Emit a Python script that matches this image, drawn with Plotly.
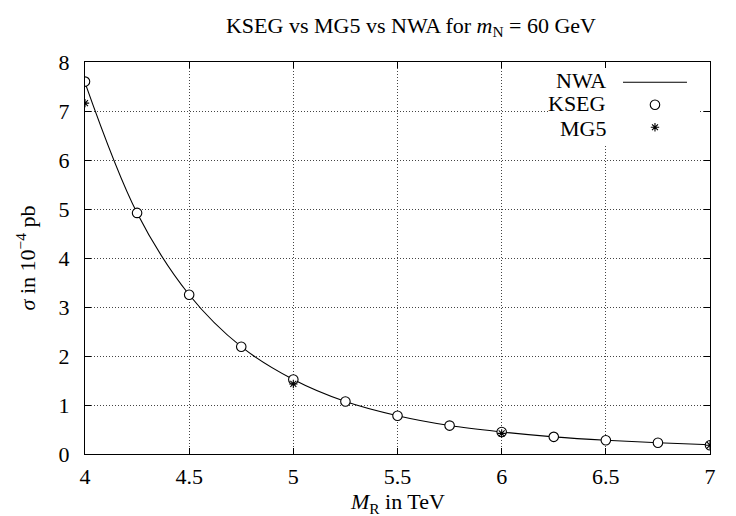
import plotly.graph_objects as go

# ---- data ----
mass_tev = [4.0, 4.25, 4.5, 4.75, 5.0, 5.25, 5.5, 5.75, 6.0, 6.25, 6.5, 6.75, 7.0]
kseg_sigma = [7.60, 4.92, 3.25, 2.19, 1.52, 1.07, 0.78, 0.58, 0.45, 0.35, 0.28, 0.23, 0.18]
nwa_sigma = [7.58, 4.92, 3.25, 2.19, 1.52, 1.07, 0.78, 0.58, 0.45, 0.35, 0.28, 0.23, 0.19]
mg5_mass = [4.0, 5.0, 6.0, 7.0]
mg5_sigma = [7.16, 1.43, 0.42, 0.18]
x_ticks = [4, 4.5, 5, 5.5, 6, 6.5, 7]
y_ticks = [0, 1, 2, 3, 4, 5, 6, 7, 8]
legend_names = ["NWA", "KSEG", "MG5"]
x_title = "<i>M</i><sub>R</sub> in TeV"
y_title = "<i>σ</i> in 10<sup>−4</sup> pb"
chart_title = "KSEG vs MG5 vs NWA for <i>m</i><sub>N</sub> = 60 GeV"

FONT = "Liberation Serif"
W, H = 736, 516
L, R, T, B = 77, 7, 54, 70
plot_w = W - L - R
plot_h = H - T - B
X_RANGE = [4, 7]
Y_RANGE = [0, 8]

fig = go.Figure()
fig.add_trace(go.Scatter(
    x=mass_tev, y=nwa_sigma, mode="lines", name=legend_names[0],
    line=dict(color="black", width=1.1, shape="spline", smoothing=1.0),
))
fig.add_trace(go.Scatter(
    x=mass_tev, y=kseg_sigma, mode="markers", name=legend_names[1],
    marker=dict(symbol="circle", size=9.5, color="white",
                line=dict(color="black", width=1.1)),
))
fig.add_trace(go.Scatter(
    x=mg5_mass, y=mg5_sigma, mode="markers", name=legend_names[2],
    marker=dict(symbol="asterisk-open", size=7, color="black",
                line=dict(color="black", width=1.1)),
))

axis_common = dict(
    showgrid=True, gridcolor="#444444", griddash="1px,2px", gridwidth=1,
    showline=True, linecolor="black", linewidth=1.3, mirror="allticks",
    ticks="inside", ticklen=6, tickcolor="black", tickwidth=1,
    zeroline=False, automargin=False,
    tickfont=dict(family=FONT, size=22, color="black"),
)

fig.update_xaxes(range=X_RANGE, tickvals=x_ticks, ticklabelstandoff=2,
                 **axis_common)
fig.update_yaxes(range=Y_RANGE, tickvals=y_ticks, ticklabelstandoff=10,
                 title=dict(text=y_title,
                            font=dict(family=FONT, size=22, color="black"),
                            standoff=16),
                 **axis_common)


# helpers converting pixel positions of layout items to axis / paper units
def px_x(px):
    return (px - L) / plot_w


def px_y(py):
    return (H - B - py) / plot_h


def data_x(px):
    return X_RANGE[0] + px_x(px) * (X_RANGE[1] - X_RANGE[0])


def data_y(py):
    return Y_RANGE[0] + px_y(py) * (Y_RANGE[1] - Y_RANGE[0])


# x-axis title (placed as annotation so the subscript is not clipped)
fig.add_annotation(text=x_title, xref="paper", yref="paper",
                   x=0.5, y=px_y(495), xanchor="center", yanchor="middle",
                   showarrow=False,
                   font=dict(family=FONT, size=22, color="black"))

# white key box (gnuplot style key, text left of sample)
fig.add_shape(type="rect", xref="x", yref="y",
              x0=data_x(560), x1=data_x(717), y0=data_y(137), y1=Y_RANGE[1],
              fillcolor="white", line=dict(width=0), layer="between")

row_y = [72, 96, 120]
for name, ry in zip(legend_names, row_y):
    fig.add_annotation(text=name, xref="paper", yref="paper",
                       x=px_x(623), y=px_y(ry), xanchor="right", yanchor="middle",
                       showarrow=False,
                       font=dict(family=FONT, size=22, color="black"))

fig.update_layout(
    width=W, height=H,
    margin=dict(l=L, r=R, t=T, b=B),
    paper_bgcolor="white", plot_bgcolor="white",
    title=dict(text=chart_title,
               x=(L + plot_w / 2) / W, xanchor="center",
               yref="container", y=1 - 17 / H, yanchor="middle",
               font=dict(family=FONT, size=22, color="black")),
    showlegend=True,
    legend=dict(x=px_x(633), y=px_y(58), xanchor="left", yanchor="top",
                bgcolor="rgba(0,0,0,0)", borderwidth=0, itemwidth=64,
                tracegroupgap=0,
                font=dict(family=FONT, size=15, color="rgba(0,0,0,0)")),
)

fig.write_html("out.html")
